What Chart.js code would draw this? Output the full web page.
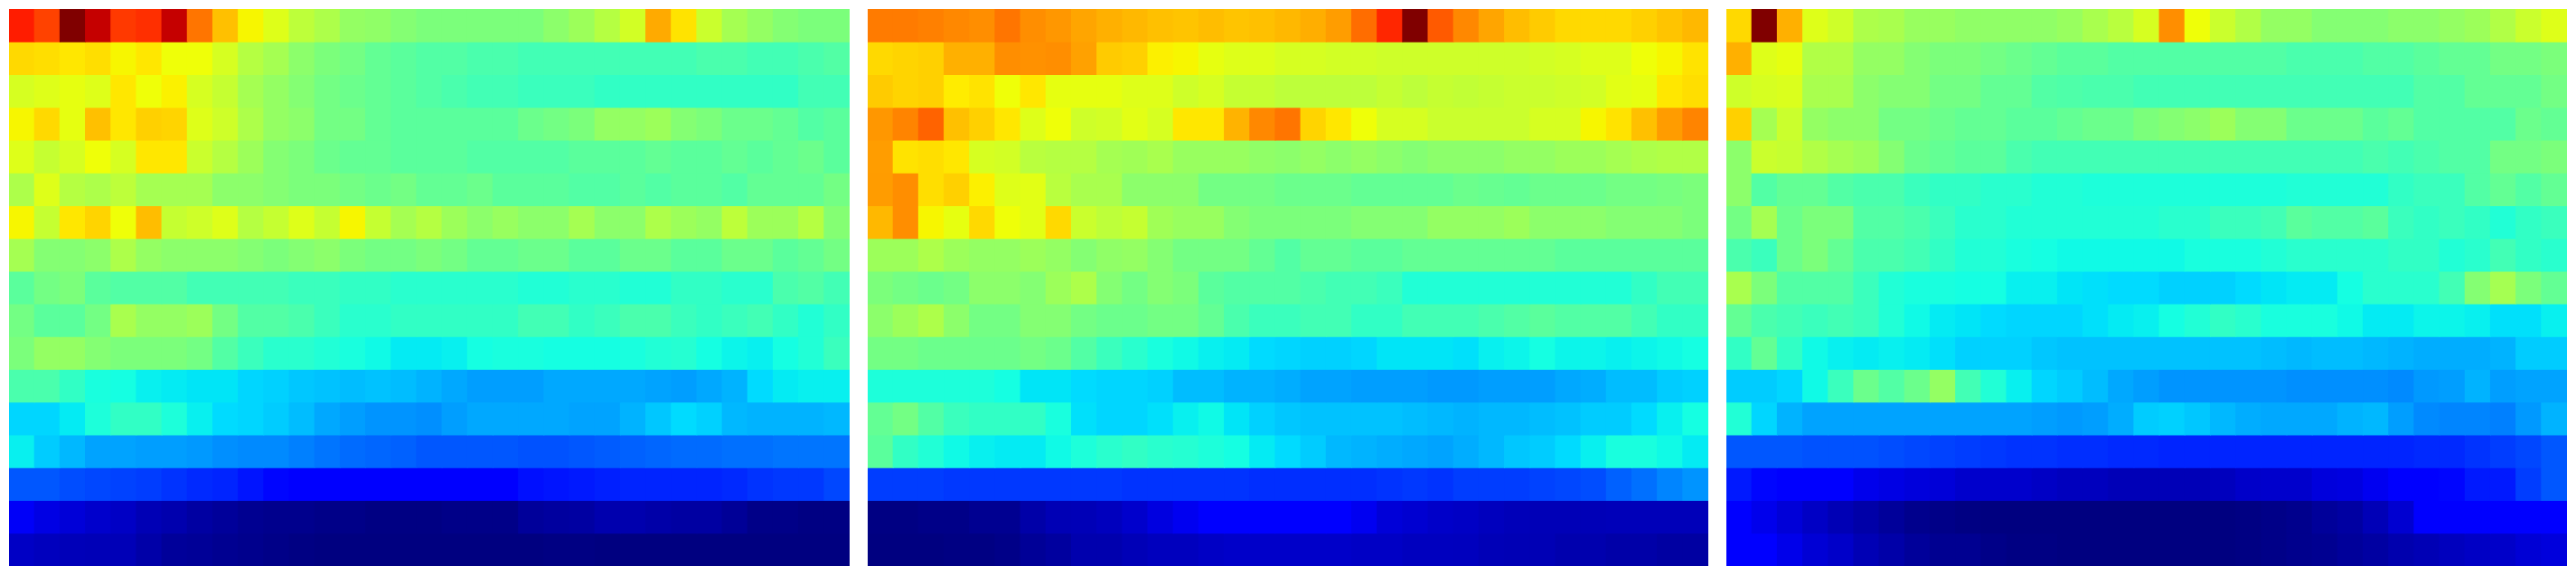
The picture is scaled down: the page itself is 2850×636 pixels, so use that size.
<!DOCTYPE html>
<html>
<head>
<meta charset="utf-8">
<script src="https://cdn.jsdelivr.net/npm/chart.js"></script>
<style>
  html, body { margin: 0; background: #fff; }
  #row { display: flex; gap: 20px; padding: 10px; }
  canvas { display: block; }
</style>
</head>
<body>
<div id="row">
  <canvas id="left" width="930" height="616"></canvas>
  <canvas id="middle" width="930" height="616"></canvas>
  <canvas id="right" width="930" height="616"></canvas>
</div>
<script>
// values are 0-100 on the jet scale, one inner list per row from the top
const panelLeft = [
  [88,84,100,94,85,86,94,78.6,70.7,65,62,58,56,53,52.5,51,50,50,50,50,50,52,54,57,60.5,73,67,59.5,55,53,51,50,50],
  [68,67.5,66.5,67.5,65,66.5,64,64,61,57,55,52,50,49,47,46,45,45,44,44,43,43,43,43,43,43,43,44,44,43,43,44,45],
  [61,62,63,62,66.5,64,65.5,61,59,55,53,51,49,48,47,46,45,44,43,43,42,42,42,41,41,41,41,41,41,41,41,43,43],
  [65,68,63,70.7,66.5,69,68.5,62,60,56,53,52,49,49,47,46,46,46,46,46,48,49,50,53,53,54,51,50,48,48,47,45,46],
  [62,59,61,64,61,66.5,66.5,59.5,57,54,51,50,48,47,47,46,46,46,45,45,45,45,46,46,46,47,46,46,47,46,47,48,46],
  [56,62,57,56,58,55,55,55,52,52,51,50,50,49,48,49,47,47,48,46,46,46,45,45,46,45,46,46,45,47,47,47,49],
  [65,59,66.5,68.5,64,71,59,60,62,57,59,62,59,65,59,55,57,54,52,53.5,52,52,55,52,52,56,54,53,58,54,54,57,51],
  [55,51,51,52,56,53,52,52,52,51,50,51,52,50,49,49,50,49,47,47,48,48,46,46,48,48,46,46,48,48,46,47,49],
  [46,49,50,46,45,45,45,43,43,43,43,42,42,41,41,40,40,40,40,40,39,39,40,40,39,39,41,41,40,40,44,45,43],
  [49,46,46,49,55.5,53,53,54,49,45,45,44,42,40,40,41,41,41,41,41,43,43,41,42,44,44,42,41,42,43,41,39,41],
  [50,53,53,51,50,50,50,49,45,42,40,40,39,38,37,35.5,35.5,36,37.5,38,38,37.5,37.5,37.5,38,39,39.5,37.5,36.5,36,37.5,39,42],
  [44,44,41,38,37.5,36,35.5,35,35,33.5,33,32,31.5,31,31.5,31,30,29,28,28,28,29,29,29,29,28.5,28,29,30,34,35.5,36,36],
  [33.5,33.5,35.5,38.5,41,41,38.5,36,34,33.5,32.5,31,29,28,27,27,26.5,28,29,29,29,29,28.5,28.5,30,32,34,33,30.5,30,30,30,30.5],
  [36,32.5,30.5,28.5,28.5,28,28,27.5,26.5,26,26,25,24,23,22.5,22,21,21,21,21,20.5,20.5,21,21.5,22,22.5,23,23,23.5,23.5,24,24,24],
  [21,21,20,19.5,19,18.5,17.5,16.5,16,14.5,13,11,11,11,11,11,11,11,11,11,14,14.5,15,15.5,16,16,16,16,16.5,17.5,18,18,19.5],
  [10.4,8.7,7.6,6.6,6,4.6,4,3,2.3,1.5,1.2,1.2,.7,.7,.3,.3,.3,.7,.7,.7,2.3,2.7,3,4,4,3.5,3,3,2,.7,.7,.3,.3],
  [6,5.4,5,4.8,4.8,3.5,2.3,2,1.5,1.2,.7,.3,0,0,0,0,0,0,0,0,0,.3,.3,0,0,0,0,0,0,0,0,0,0]
];

const panelMiddle = [
  [78,78,77.5,76.6,76,78.6,76,75,73.5,72.4,71.5,70.7,70.3,71,70.3,70.7,71.5,72.6,74.4,79.5,87,100,81.5,76.6,73.5,71,69.5,68,68,68,69,70.3,71.5],
  [68,68.5,69,72.4,72.4,76,75.7,76,74,69.5,69,65.6,65,63,62,62,61,61,60.5,60.5,60,60,60,60,60,60,60.5,61,62,62,64,65,67],
  [69.5,68.5,69,66,67,64,66.5,63,63,63,62,62,60,61,59,59,58,58,58,58,59,58,59,58.5,59,59.5,59.5,60,60.5,62.5,63,66.5,67.5],
  [75,77,80.5,70.7,69,66.5,62,64,60,60.5,62.5,61,66.5,66.5,72,76.6,78.6,68.5,66.5,64,61,61,59.5,59.5,59.5,59.5,61,61,65,67,70.7,74.5,77],
  [74.4,67,67.5,66.5,61,60.5,57.5,57,57,55,54.5,55.5,53.5,53.5,53.5,52.5,52,53,52,53,52,51,52,52,52,53,53,54,54,55,56,56.5,56.5],
  [74.5,76,67.5,69,65.6,62,62.5,57.5,55.5,55.5,52,52,52,49,49,49,48,48,48,47,47,47,47,48,47.5,47,48,48,48,49,49,49.5,50],
  [71.5,76,65,63,68,64,62.5,68,59.5,58,59,54.5,53.5,53.5,51,50,50,50,50,51,51,51,53,53,53,54,52,52,52,51,51,51,50],
  [54,54,56,54,53,53,54,53,51,52.5,53,51,49,49,49,47,45,47,47,46,46,47,47,47,47,47,47,46,46,46,46,46,46],
  [50,49,48,49,52,52,51,54,56,51,49,51,50,46,45,45,45,44,43,43,42,39,39,39,39,39,39,39,39,39,41,43,43],
  [52,54,56,52,49,49,51,51,49,48,48,49,49,47,44,42,42,43,43,41,41,43,43,43,44,45,46,45,45,45,43,41,41],
  [49,49,48,48,48,48,49,48,45,42,40,38,37,36,35.5,34,33.5,33,33,33.5,35,35,35,34.5,36,36.5,37.5,36.5,36.5,36,36.5,37,37.5],
  [38.5,38.5,38.5,38.5,38.5,37.5,35,35,34,33.5,33.5,33,31,31,30,30,29.5,28.5,28.5,28,28,28,27.5,27.5,28,28,28,29,29.5,31,31,32.5,33],
  [47,49,45,42,41,41,41,38,34.5,33.5,33.5,34.5,36,37,35,33,32,31.5,31.5,31.5,31.5,31,30.5,30,30.5,30.5,31,31.5,32.5,32.5,34,36,37.5],
  [46,41,39,37,36,35.5,35.5,37,38.5,40,41,40,39.5,38.5,37.5,35.5,34,32.5,30.5,30,29.5,29,28.5,29.5,30.5,32,32.5,34,36,38,38,37,35.5],
  [18.5,18.5,18.5,18,18,18,18,18,18,18,17.5,17.5,17.5,17.5,17.5,17,17,17,17,17,17.5,18,17.5,18.5,18.5,18.5,19,19.5,20,22,23.5,25.5,27],
  [.3,.3,.7,.7,1.5,1.5,3.5,4.6,4.8,5.4,6.6,8.3,9.8,11,11,11,11,11,11,9.8,7.6,7,6.3,6,5.4,5,4.8,4.8,4.8,5,5,5,5],
  [0,0,0,.3,.3,.7,2,2.7,4,4,4.8,5.4,5.4,6,6.3,6.3,6.3,6.3,6.3,6,6,5.5,5.5,5.4,4.8,4.6,4.6,4,4,3.5,3.5,3,3]
];

const panelRight = [
  [68,100,72.4,62,60,56,55.5,53.5,53.5,52.5,52.5,52.5,52.5,53.5,55.5,57.5,61,76,64,59.5,56.5,53,53,51,51,51,52,52,53,54,56.5,59.5,62],
  [72.4,62,63,56.5,56.5,53,53,51,50,50,49,48,47,46,46,45,45,45,45,45,45,45,44,44,44,45,45,46,47,47,49,49,50],
  [60,61,61.5,55.5,55.5,52,51,51,49,49,47,47,45,44.5,44,44,43,43,43,43,43,43,43,43,43,43,43,45,45,47,47,47,49],
  [69,55,59.5,53,52,52,49,49,48,47,47,46,46,47,48,48,50,51,52,54,51,51,48,48,48,46,47,45,45,45,45,48,47],
  [52,59.5,59,56.5,55,54,51,48,47,46,46,44,43,43,43,43,43,43,43,43,43,43,43,43,43,44,43,44,45,45,49,49,50],
  [52,45,47,47,45,44,44,42,41,41,40,40,39,39,38.5,38.5,38.5,38.5,38.5,38.5,38.5,38.5,39,39,39,39,41,42,42,45,47,45,47],
  [49,55,48,50,50,45,45,44,42,40,40,39,39,39,39,39,39,40,40,42,42,43,46,45,45,46,42,41,42,41,39,41,42],
  [44,42,48,50,47,44,44,43,41,39,39,38,37.5,37,37,37,37,37,38,38,38,39,40,40,40,40,41,41,39,40,43,41,40],
  [55.5,50,45,45,45,42,39,38,38,37.5,37.5,36,36,35,34.5,34,34,33,33,33,34,35,35.5,35.5,37.5,40,40,40,43,51,55,50,47],
  [47,44,43,42,43,42,39,37,35.5,35,34,33.5,33.5,33.5,34.5,35.5,36,37.5,39,41,40,38,38,38,37,35.5,35.5,36.5,36.5,36,34.5,34.5,36],
  [41,47,41,37,36,35.5,36,35.5,34.5,33,33,33,32,31.5,31.5,31.5,31.5,31.5,31.5,31.5,31.5,31,30.5,31,31,30.5,30,29.5,29.5,29.5,30,32.5,32.5],
  [32.5,32.5,33.5,37,42,48,45,48,53,43,39,36,33.5,32.5,31,29,28,27,27,27,27,27,26.5,26.5,26.5,26.5,26,27.5,28,30,28,28.5,28.5],
  [39,33.5,30,28.5,28.5,28.5,28.5,28.5,28.5,28.5,28.5,28.5,28,27.5,28,29.5,32.5,33,32,30.5,29.5,29,29,29,30,30.5,28,26,25.5,25.5,25,27.5,30],
  [21,21,21,20.5,20.5,20.5,20,19.5,19,18.5,18,17.5,17.5,17,17,16.5,16.5,16,16,16,16,16,16,16,16,16,16,16.5,16.5,17.5,18.5,19.5,21],
  [15,13,11,11,11,9.4,8.7,8,7.6,6.6,6.6,6.6,6,5.4,5.4,4.8,4.8,4.8,4.8,5.4,6.3,6.6,6.6,8,8.3,9.8,11,11,13,15,15,18.5,21],
  [11,9.4,7.6,6,4.6,3.5,2.3,1.2,.7,.3,0,0,0,0,0,0,0,0,0,0,.3,.7,1.2,2.3,3,4.8,7,11,11,11,11,11,11],
  [11,11,9.2,7.4,6.3,4.6,3.5,2.3,1.5,1.5,.7,.3,.3,0,0,0,0,0,0,0,.3,.7,1.2,1.5,2.3,3,4,4.6,5.4,6,6.3,7.4,8]
];

const jetRed = [[0, 0], [.35, 0], [.66, 1], [.89, 1], [1, .5]];
const jetGreen = [[0, 0], [.125, 0], [.375, 1], [.64, 1], [.91, 0], [1, 0]];
const jetBlue = [[0, .5], [.11, 1], [.34, 1], [.65, 0], [1, 0]];

function channel(stops, t) {
  for (let i = 1; i < stops.length; i++) {
    if (t <= stops[i][0]) {
      const [x0, y0] = stops[i - 1];
      const [x1, y1] = stops[i];
      return Math.round(255 * (y0 + (y1 - y0) * (t - x0) / (x1 - x0)));
    }
  }
  return Math.round(255 * stops[stops.length - 1][1]);
}

function jet(value) {
  const t = value / 100;
  return `rgb(${channel(jetRed, t)},${channel(jetGreen, t)},${channel(jetBlue, t)})`;
}

function drawPanel(id, rows) {
  const columns = rows[0].map((_, i) => i);
  new Chart(document.getElementById(id), {
    type: "bar",
    data: {
      labels: columns,
      datasets: rows.map((row, r) => ({
        data: row.map(() => [r, r + 1]),
        backgroundColor: row.map(jet),
        borderWidth: 0,
        inflateAmount: 0.5,
        grouped: false,
        barPercentage: 1,
        categoryPercentage: 1
      }))
    },
    options: {
      responsive: false,
      animation: false,
      layout: { padding: 0 },
      plugins: { legend: { display: false }, tooltip: { enabled: false } },
      scales: {
        x: { display: false },
        y: { display: false, min: 0, max: rows.length, reverse: true }
      }
    }
  });
}

drawPanel("left", panelLeft);
drawPanel("middle", panelMiddle);
drawPanel("right", panelRight);
</script>
</body>
</html>
